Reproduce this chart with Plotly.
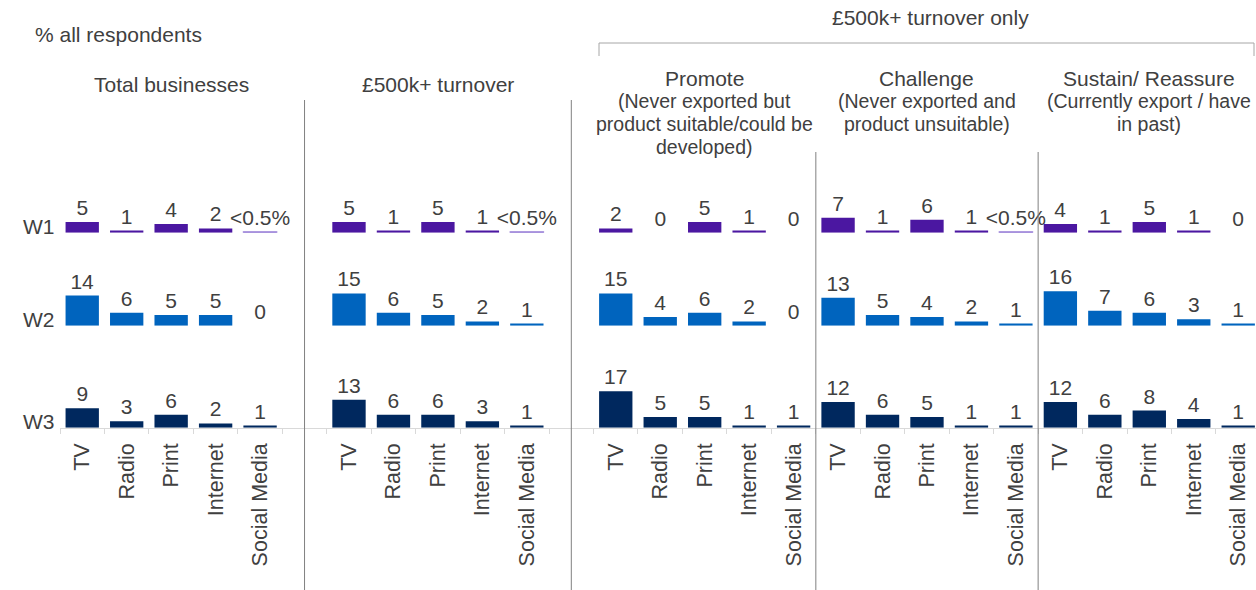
import plotly.graph_objects as go

# ---------------- data ----------------
categories = ["TV", "Radio", "Print", "Internet", "Social Media"]
panels = ["Total businesses", "£500k+ turnover", "Promote", "Challenge", "Sustain/ Reassure"]
subtitles = [
    [],
    [],
    ["(Never exported but", "product suitable/could be", "developed)"],
    ["(Never exported and", "product unsuitable)"],
    ["(Currently export / have", "in past)"],
]
waves = ["W1", "W2", "W3"]
group_title = "£500k+ turnover only"
y_title = "% all respondents"

# values per panel (0.4 stands for "<0.5%")
w1_total = [5, 1, 4, 2, 0.4]
w1_500k = [5, 1, 5, 1, 0.4]
w1_promote = [2, 0, 5, 1, 0]
w1_challenge = [7, 1, 6, 1, 0.4]
w1_sustain = [4, 1, 5, 1, 0]

w2_total = [14, 6, 5, 5, 0]
w2_500k = [15, 6, 5, 2, 1]
w2_promote = [15, 4, 6, 2, 0]
w2_challenge = [13, 5, 4, 2, 1]
w2_sustain = [16, 7, 6, 3, 1]

w3_total = [9, 3, 6, 2, 1]
w3_500k = [13, 6, 6, 3, 1]
w3_promote = [17, 5, 5, 1, 1]
w3_challenge = [12, 6, 5, 1, 1]
w3_sustain = [12, 6, 8, 4, 1]

wave_values = [
    [w1_total, w1_500k, w1_promote, w1_challenge, w1_sustain],
    [w2_total, w2_500k, w2_promote, w2_challenge, w2_sustain],
    [w3_total, w3_500k, w3_promote, w3_challenge, w3_sustain],
]

# ---------------- layout constants ----------------
W, H = 1256, 590
ML, MR, MT, MB = 60, 0, 40, 162
PW, PH = W - ML - MR, H - MT - MB
FONT = "Liberation Sans, Arial, sans-serif"
TXT = "#404040"
wave_colors = ["#4B17A1", "#0064BE", "#00285E"]
tiny_colors = ["#9C85D8", "#7DB0E6", "#6F86B3"]
panel_starts = [0, 6, 12, 17, 22]
separators = [(5, 100), (11, 100), (16.5, 152), (21.5, 152)]
row_baselines_px = [232.7, 325.7, 427.7]
px_per_unit = 2.15
row_range = 20
X_RANGE = [-0.5, 26.4]


def py(p):
    return (H - MB - p) / PH


def pxx(p):
    return (p - ML) / PW


x_pos = []
tick_text = []
for s in panel_starts:
    for i, c in enumerate(categories):
        x_pos.append(s + i)
        tick_text.append(c)

fig = go.Figure()
axis_names = ["y3", "y2", "y"]  # W1 top, W2 middle, W3 bottom
for r, wave in enumerate(waves):
    vals = [v for panel in wave_values[r] for v in panel]
    texts = ["<0.5%" if 0 < v < 0.5 else str(int(v)) for v in vals]
    colors = [tiny_colors[r] if 0 < v < 0.5 else wave_colors[r] for v in vals]
    lw = [1.2 if 0 < v < 0.5 else 0 for v in vals]
    fig.add_trace(go.Bar(
        x=x_pos, y=vals, name=wave, xaxis="x", yaxis=axis_names[r],
        width=0.75,
        marker=dict(color=colors, line=dict(color=colors, width=lw)),
        text=texts, textposition="outside", textangle=0,
        constraintext="none", cliponaxis=False,
        textfont=dict(family=FONT, size=21, color=TXT),
        showlegend=False, hoverinfo="skip",
    ))

layout_axes = {}
for r in range(3):
    base = row_baselines_px[r]
    d0 = py(base)
    d1 = d0 + row_range * px_per_unit / PH
    name = ["yaxis3", "yaxis2", "yaxis"][r]
    layout_axes[name] = dict(domain=[max(d0, 0), d1], range=[0, row_range],
                             visible=False, fixedrange=True)

fig.update_layout(
    width=W, height=H,
    margin=dict(l=ML, r=MR, t=MT, b=MB),
    paper_bgcolor="white", plot_bgcolor="white",
    font=dict(family=FONT, size=21, color=TXT),
    bargap=0.25,
    xaxis=dict(
        range=X_RANGE, anchor="y", showgrid=False, zeroline=False,
        showline=True, linecolor="#D9D9D9", linewidth=1,
        tickmode="array", tickvals=x_pos, ticktext=tick_text,
        tickangle=-90, ticks="", ticklabelstandoff=6,
        tickfont=dict(family=FONT, size=21.5, color=TXT),
        minor=dict(tickmode="array", tickvals=[k - 0.5 for k in range(28)],
                   ticks="outside", ticklen=5, tickcolor="#D9D9D9", tickwidth=1),
        fixedrange=True,
    ),
    **layout_axes,
)

shapes = []
for xs, top in separators:
    shapes.append(dict(type="line", xref="x", yref="paper", x0=xs, x1=xs,
                       y0=py(590), y1=py(top), line=dict(color="#808080", width=1)))
# bracket
bx0, bx1, by0, by1 = pxx(599), pxx(1254), py(56), py(43)
shapes.append(dict(type="path", xref="paper", yref="paper",
                   path=f"M {bx0},{by0} L {bx0},{by1} L {bx1},{by1} L {bx1},{by0}",
                   line=dict(color="#A6A6A6", width=1)))
fig.update_layout(shapes=shapes)

ann = []
ann.append(dict(text=y_title, xref="paper", yref="paper", x=pxx(33), y=py(34),
                xanchor="left", yanchor="middle", showarrow=False))
ann.append(dict(text=group_title, xref="paper", yref="paper", x=pxx(930), y=py(18),
                xanchor="center", yanchor="middle", showarrow=False))
for p, s in enumerate(panel_starts):
    cx = s + 2
    if subtitles[p]:
        ann.append(dict(text=panels[p], xref="x", yref="paper", x=cx, y=py(78),
                        xanchor="center", yanchor="middle", showarrow=False))
        for j, line in enumerate(subtitles[p]):
            ann.append(dict(text=line, xref="x", yref="paper", x=cx, y=py(101 + 23 * j),
                            xanchor="center", yanchor="middle", showarrow=False,
                            font=dict(size=19.5)))
    else:
        ann.append(dict(text=panels[p], xref="x", yref="paper", x=cx, y=py(84),
                        xanchor="center", yanchor="middle", showarrow=False))
for r, wave in enumerate(waves):
    ann.append(dict(text=wave, xref="paper", yref="paper", x=pxx(21),
                    y=py(row_baselines_px[r] - 6), xanchor="left", yanchor="middle",
                    showarrow=False))
fig.update_layout(annotations=ann)

fig.write_html("out.html", config={"displayModeBar": False},
               post_script="document.body.style.margin='0';")
